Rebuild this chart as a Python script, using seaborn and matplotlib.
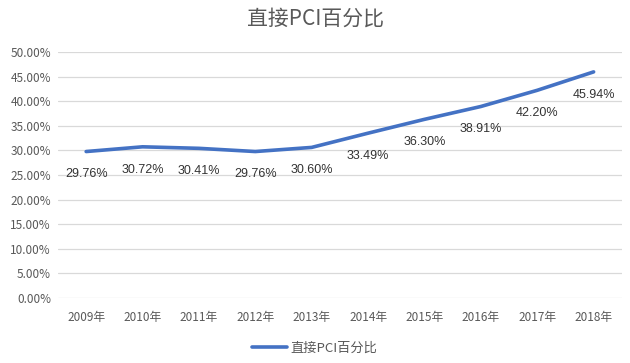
import pandas as pd
import numpy as np
import seaborn as sns
import matplotlib.pyplot as plt
from matplotlib.ticker import FuncFormatter

# data
years = ["2009年", "2010年", "2011年", "2012年", "2013年",
         "2014年", "2015年", "2016年", "2017年", "2018年"]
pci_pct = [29.76, 30.72, 30.41, 29.76, 30.60, 33.49, 36.30, 38.91, 42.20, 45.94]
series_name = "直接PCI百分比"

df = pd.DataFrame({"year": years, "pct": pci_pct})
df["pos"] = np.arange(len(df))

sns.set_theme(style="white")
plt.rcParams['font.family'] = ['Noto Sans CJK SC', 'DejaVu Sans']

fig = plt.figure(figsize=(6.3, 3.63), dpi=100)
ax = fig.add_axes([0.092, 0.179, 0.895, 0.678])

sns.lineplot(data=df, x="pos", y="pct", ax=ax, color="#4472C4",
             linewidth=2.6, label=series_name, legend=False)

# data labels under the points
for i, row in df.iterrows():
    ax.annotate(f"{row.pct:.2f}%", (row.pos, row.pct), xytext=(0, -16.5),
                textcoords="offset points", ha="center", va="center",
                fontsize=9, color="#333333",
                family=['Liberation Sans', 'DejaVu Sans'])

ax.set_xlim(-0.5, len(df) - 0.5)
ax.set_ylim(0, 50)
ax.set_yticks(np.arange(0, 50.1, 5))
ax.yaxis.set_major_formatter(FuncFormatter(lambda v, p: f"{v:.2f}%"))
ax.set_xticks(df["pos"])
ax.set_xticklabels(df["year"])
ax.grid(axis="y", color="#d9d9d9", linewidth=0.9)
ax.set_axisbelow(True)
for s in ax.spines.values():
    s.set_visible(False)
ax.tick_params(axis="both", length=0, labelsize=8.5, labelcolor="#595959", pad=5)
ax.tick_params(axis="x", pad=9)
ax.set_xlabel("")
ax.set_ylabel("")

fig.suptitle(series_name, y=0.98, fontsize=15, color="#595959")

handles, labels = ax.get_legend_handles_labels()
fig.legend(handles, labels, loc="center", bbox_to_anchor=(0.5, 0.04), frameon=False,
           fontsize=9.5, labelcolor="#595959", handlelength=2.6, handletextpad=0.3)

plt.savefig("out.png", dpi=100)
